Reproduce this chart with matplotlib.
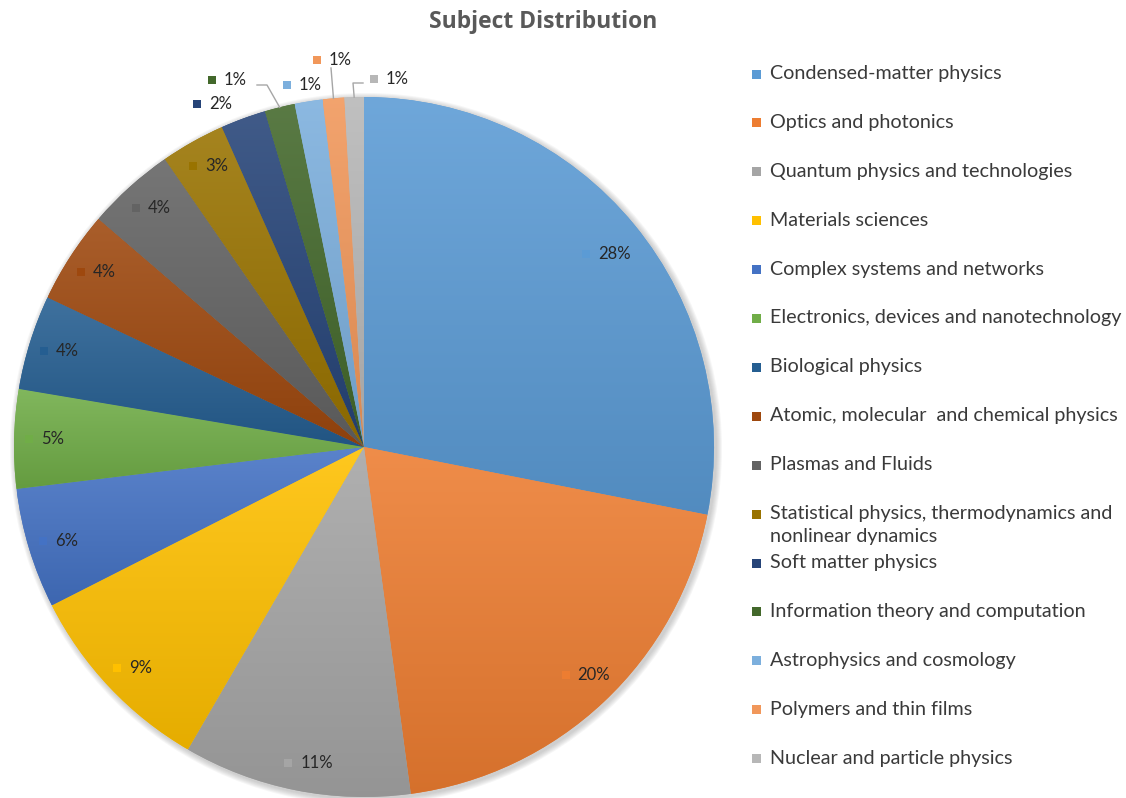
import numpy as np
import matplotlib
matplotlib.use("Agg")
import matplotlib.pyplot as plt
from matplotlib.colors import to_rgb
from matplotlib.patches import Circle, Rectangle

# data
subjects = [
    "Condensed-matter physics",
    "Optics and photonics",
    "Quantum physics and technologies",
    "Materials sciences",
    "Complex systems and networks",
    "Electronics, devices and nanotechnology",
    "Biological physics",
    "Atomic, molecular  and chemical physics",
    "Plasmas and Fluids",
    "Statistical physics, thermodynamics and\nnonlinear dynamics",
    "Soft matter physics",
    "Information theory and computation",
    "Astrophysics and cosmology",
    "Polymers and thin films",
    "Nuclear and particle physics",
]
shares = [28.3, 19.9, 10.6, 9.2, 5.6, 4.6, 4.4, 4.3, 4.1, 3.0, 2.1, 1.4, 1.3, 1.0, 0.9]
colors = ["#5B9BD5", "#ED7D31", "#A5A5A5", "#FFC000", "#4472C4", "#70AD47",
          "#255E91", "#9E480E", "#636363", "#997300", "#264478", "#43682B",
          "#7CAFDD", "#F1975A", "#B7B7B7"]

W, H = 1126, 798
def py(y):
    return H - y

fig = plt.figure(figsize=(W / 100, H / 100), dpi=100)
ax = fig.add_axes([0, 0, 1, 1])

cx, cy, R = 364, py(447), 350

# soft shadow
for k in range(6):
    ax.add_patch(Circle((cx + 2, cy - 2), R + 1 + k, color="#808080",
                        alpha=0.07, lw=0, zorder=0))

wedges, _ = ax.pie(shares, colors=colors, startangle=90, counterclock=False,
                   radius=R, center=(cx, cy), wedgeprops=dict(linewidth=0))

# vertical gradient per slice (lighter top, darker bottom)
for w, c in zip(wedges, colors):
    w.set_zorder(1)
    v = w.get_path().vertices
    y0, y1 = v[:, 1].min(), v[:, 1].max()
    x0, x1 = v[:, 0].min(), v[:, 0].max()
    base = np.array(to_rgb(c))
    light = base + (1 - base) * 0.12
    dark = base * 0.9
    t = np.linspace(0, 1, 128)[:, None]
    grad = (dark * (1 - t) + light * t)[:, None, :]
    im = ax.imshow(grad, extent=[x0, x1, y0, y1], origin="lower",
                   aspect="auto", zorder=2, interpolation="bilinear")
    im.set_clip_path(w)

total = sum(shares)
pcts = [f"{round(s / total * 100)}%" for s in shares]

# outside label positions (px) and leader elbows for the small slices
outside = {
    10: ((210, 104), None),
    11: ((225, 80), [(267, 85), (257, 85)]),
    12: ((300, 85), None),
    13: ((330, 60), [(331, 68)]),
    14: ((387, 79), [(353, 83), (363, 83)]),
}
label_r = {0: 0.87, 1: 0.895}

for i, (w, c, p) in enumerate(zip(wedges, colors, pcts)):
    mid = np.deg2rad((w.theta1 + w.theta2) / 2)
    if i in outside:
        (lx, ly), elbow = outside[i]
        lx, ly = lx, py(ly)
        if elbow:
            ex, ey = cx + R * np.cos(mid), cy + R * np.sin(mid)
            xs = [ex] + [e[0] for e in elbow]
            ys = [ey] + [py(e[1]) for e in elbow]
            ax.plot(xs, ys, color="#A6A6A6", lw=1, zorder=3)
    else:
        r = label_r.get(i, 0.92) * R
        lx, ly = cx + r * np.cos(mid), cy + r * np.sin(mid)
    ax.add_patch(Rectangle((lx - 17, ly - 4), 8, 8, color=c, lw=0, zorder=4))
    ax.text(lx - 1, ly, p, fontsize=12, family="Lato", color="#262626",
            ha="left", va="center", zorder=5)

# title
fig.text(543 / W, 1 - 22 / H, "Subject Distribution", fontsize=16.5,
         family="Open Sans", fontweight="bold", color="#595959",
         ha="center", va="center")

# legend
for i, (name, c) in enumerate(zip(subjects, colors)):
    y = 74 + i * 48.9
    ax.add_patch(Rectangle((752, py(y) - 4.5), 9, 9, color=c, lw=0))
    ax.text(770, py(y) + 9, name, fontsize=14.2, family="Lato",
            color="#3a3a3a", ha="left", va="top", linespacing=1.42)

ax.set_xlim(0, W)
ax.set_ylim(0, H)
ax.axis("off")

fig.savefig("out.png", dpi=100)
